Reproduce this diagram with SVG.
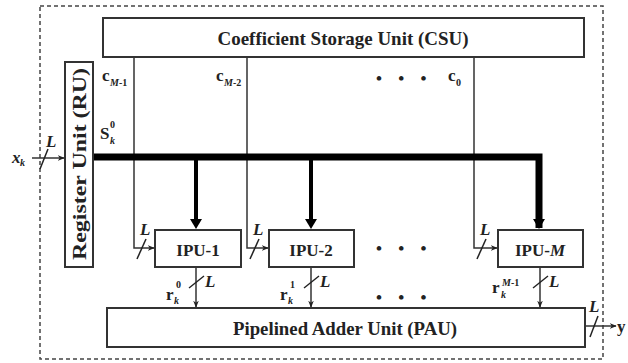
<svg xmlns="http://www.w3.org/2000/svg" width="628" height="363" viewBox="0 0 628 363">
<defs>
<style>
.box{fill:#fff;stroke:#333;stroke-width:2}
.ln{fill:none;stroke:#333;stroke-width:1.5}
.bus{fill:none;stroke:#000;stroke-width:7}
.thk{fill:none;stroke:#000;stroke-width:4}
.sl{stroke:#222;stroke-width:1.5}
text{font-family:"Liberation Serif","Times New Roman",serif;font-weight:bold;fill:#222}
.t{font-size:19px}
.lb{font-size:17px}
.it{font-style:italic}
.sm{font-size:10px}
</style>
<marker id="ar" viewBox="0 0 10 10" refX="9" refY="5" markerWidth="7" markerHeight="7" orient="auto" markerUnits="userSpaceOnUse"><path d="M0,1 L10,5 L0,9 L3,5 Z" fill="#222"/></marker>
<marker id="ab" viewBox="0 0 10 10" refX="8" refY="5" markerWidth="4" markerHeight="4" orient="auto"><path d="M0,0 L10,5 L0,10 Z" fill="#000"/></marker>
</defs>
<rect x="40" y="6" width="563" height="353" fill="none" stroke="#444" stroke-width="1.5" stroke-dasharray="4,3"/>
<g id="connectors">
<path class="ln" d="M134,57 V248 H154" marker-end="url(#ar)"/>
<path class="ln" d="M247,57 V248 H268" marker-end="url(#ar)"/>
<path class="ln" d="M474,57 V248 H497" marker-end="url(#ar)"/>
<path class="bus" d="M93,157 H539 V228"/>
<path d="M533,219 L545,219 L539,229 Z" fill="#000"/>
<path class="thk" d="M196,157 V221"/>
<path d="M190,219 L202,219 L196,229 Z" fill="#000"/>
<path class="thk" d="M311,157 V221"/>
<path d="M305,219 L317,219 L311,229 Z" fill="#000"/>
<path class="ln" d="M196,267 V307" marker-end="url(#ar)"/>
<path class="ln" d="M311,267 V307" marker-end="url(#ar)"/>
<path class="ln" d="M540,267 V307" marker-end="url(#ar)"/>
<path class="ln" d="M32,158 H64" marker-end="url(#ar)"/>
<path class="ln" d="M585,326 H616" marker-end="url(#ar)"/>
<line class="sl" x1="137" y1="259" x2="146" y2="239"/>
<line class="sl" x1="250" y1="259" x2="259" y2="239"/>
<line class="sl" x1="477" y1="259" x2="486" y2="239"/>
<line class="sl" x1="189" y1="288" x2="204" y2="276"/>
<line class="sl" x1="304" y1="288" x2="319" y2="276"/>
<line class="sl" x1="533" y1="288" x2="548" y2="276"/>
<line class="sl" x1="40" y1="169" x2="48" y2="149"/>
<line class="sl" x1="590" y1="337" x2="598" y2="316"/>
</g>
<g id="csu"><rect class="box" x="103" y="18" width="481" height="39"/><text class="t" x="343" y="45" text-anchor="middle" textLength="251" lengthAdjust="spacingAndGlyphs">Coefficient Storage Unit (CSU)</text></g>
<g id="ru"><rect class="box" x="65" y="62" width="28" height="205"/><text class="t" transform="translate(86,164) rotate(-90)" text-anchor="middle" textLength="192" lengthAdjust="spacingAndGlyphs">Register Unit (RU)</text></g>
<g id="ipu1"><rect class="box" x="155" y="230" width="86" height="37"/><text class="lb" x="198" y="256" text-anchor="middle">IPU-1</text></g>
<g id="ipu2"><rect class="box" x="269" y="230" width="85" height="37"/><text class="lb" x="311" y="256" text-anchor="middle">IPU-2</text></g>
<g id="ipum"><rect class="box" x="498" y="230" width="85" height="37"/><text class="lb" x="540" y="256" text-anchor="middle">IPU-<tspan class="it">M</tspan></text></g>
<g id="pau"><rect class="box" x="107" y="308" width="478" height="39"/><text class="t" x="345" y="335" text-anchor="middle" textLength="224" lengthAdjust="spacingAndGlyphs">Pipelined Adder Unit (PAU)</text></g>
<g id="labels">
<text class="lb" x="102" y="81">c</text><text class="sm" x="110" y="86"><tspan class="it">M</tspan>-1</text>
<text class="lb" x="216" y="81">c</text><text class="sm" x="224" y="86"><tspan class="it">M</tspan>-2</text>
<text class="lb" x="448" y="81">c</text><text class="sm" x="456" y="86">0</text>
<text class="lb" x="100" y="139">S</text><text class="sm" x="110" y="128">0</text><text class="sm it" x="110" y="144">k</text>
<text class="lb it" x="12" y="163">x</text><text class="sm it" x="20" y="166">k</text>
<text class="lb it" x="46" y="147">L</text>
<text class="lb it" x="140" y="235">L</text>
<text class="lb it" x="253" y="235">L</text>
<text class="lb it" x="480" y="235">L</text>
<text class="lb it" x="205" y="287">L</text>
<text class="lb it" x="320" y="287">L</text>
<text class="lb it" x="549" y="287">L</text>
<text class="lb it" x="589" y="312">L</text>
<text class="lb" x="617" y="332">y</text>
<text class="lb" x="166" y="300">r</text><text class="sm" x="176" y="288">0</text><text class="sm it" x="174" y="304">k</text>
<text class="lb" x="280" y="300">r</text><text class="sm" x="290" y="288">1</text><text class="sm it" x="288" y="304">k</text>
<text class="lb" x="492" y="293">r</text><text class="sm" x="502" y="286"><tspan class="it">M</tspan>-1</text><text class="sm it" x="501" y="298">k</text>
<text class="lb" x="376" y="84" letter-spacing="6">• • •</text>
<text class="lb" x="376" y="254" letter-spacing="6">• • •</text>
<text class="lb" x="376" y="303" letter-spacing="6">• • •</text>
</g>
</svg>
